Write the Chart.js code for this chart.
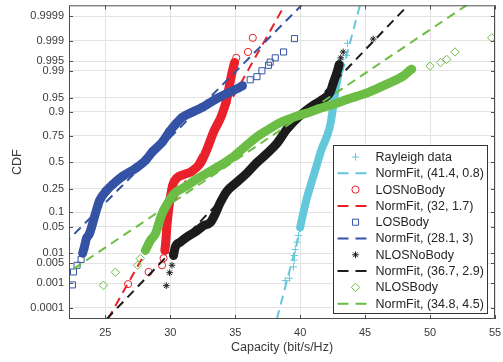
<!DOCTYPE html>
<html>
<head>
<meta charset="utf-8">
<script src="https://cdn.jsdelivr.net/npm/chart.js@4.4.0/dist/chart.umd.min.js"></script>
<style>
  html, body { margin: 0; padding: 0; background: #fff; }
</style>
</head>
<body>
<canvas id="cdf" width="503" height="362"></canvas>
<script>
// names, fit parameters (mu, sigma) and axis ticks
const seriesNames = ["Rayleigh data", "LOSNoBody", "LOSBody", "NLOSNoBody", "NLOSBody"];
const fitMu = [41.4, 32, 28.1, 36.7, 34.8];
const fitSigma = [0.8, 1.7, 3, 2.9, 4.5];
const cdfTicks = [0.0001, 0.001, 0.005, 0.01, 0.05, 0.1, 0.25, 0.5, 0.75, 0.9, 0.95, 0.99, 0.995, 0.999, 0.9999];
const capTicks = [25, 30, 35, 40, 45, 50, 55];

// capacity (bit/s/Hz) and CDF as standard normal quantile (probability plot units)
const rayleighX = [38.85, 39.18, 39.48, 39.54, 39.56, 39.62, 39.75, 39.87, 40.0, 40.25, 40.52, 40.90, 41.28, 41.67, 42.05, 42.31, 42.56, 42.69, 42.82, 43.08, 43.15, 43.55, 43.64];
const rayleighQ = [-3.02, -2.96, -2.67, -2.50, -2.38, -2.23, -2.04, -1.87, -1.66, -1.28, -0.91, -0.49, -0.07, 0.35, 0.65, 0.94, 1.45, 1.78, 2.03, 2.49, 2.62, 2.72, 3.03];

const losNoBodyX = [26.75, 28.33, 29.36, 29.48, 29.58, 29.66, 29.72, 29.82, 29.92, 30.05, 30.18, 30.52, 31.02, 31.67, 32.31, 32.85, 33.33, 33.95, 34.35, 34.55, 34.75, 34.95, 35.08, 35.98, 36.35];
const losNoBodyQ = [-3.11, -2.80, -2.63, -2.45, -2.25, -2.00, -1.70, -1.37, -1.07, -0.81, -0.59, -0.40, -0.32, -0.23, -0.03, 0.35, 0.77, 1.19, 1.61, 1.95, 2.28, 2.54, 2.66, 2.81, 3.17];

const losBodyX = [22.46, 22.55, 22.82, 23.13, 23.25, 23.38, 23.54, 23.77, 24.15, 24.54, 25.05, 25.56, 26.33, 27.36, 28.13, 28.64, 29.41, 29.92, 30.44, 30.95, 31.72, 32.48, 33.52, 34.54, 35.56, 36.15, 36.67, 37.05, 37.56, 37.69, 38.08, 38.72, 39.56];
const losBodyQ = [-3.13, -2.80, -2.63, -2.48, -2.32, -2.17, -1.95, -1.83, -1.41, -0.99, -0.74, -0.57, -0.36, -0.15, 0.06, 0.27, 0.52, 0.77, 0.98, 1.15, 1.28, 1.40, 1.61, 1.78, 1.95, 2.10, 2.18, 2.33, 2.47, 2.55, 2.66, 2.81, 3.15];

const nlosNoBodyX = [29.69, 29.95, 30.13, 30.25, 30.38, 30.77, 31.28, 32.05, 32.56, 33.08, 33.46, 33.85, 34.36, 35.13, 35.90, 36.67, 37.44, 38.21, 38.98, 40.0, 41.02, 41.79, 42.31, 42.56, 42.82, 43.0, 43.12, 43.31, 45.62];
const nlosNoBodyQ = [-3.15, -2.82, -2.63, -2.38, -2.17, -2.04, -1.91, -1.75, -1.62, -1.54, -1.32, -1.03, -0.74, -0.51, -0.28, -0.01, 0.22, 0.48, 0.84, 1.19, 1.45, 1.61, 1.78, 2.03, 2.28, 2.49, 2.66, 2.81, 3.14];

const nlosBodyX = [24.85, 25.77, 27.48, 27.69, 28.08, 28.46, 28.85, 29.10, 29.36, 29.75, 30.25, 31.25, 32.0, 33.0, 34.0, 34.9, 35.6, 36.2, 36.95, 37.69, 38.4, 39.23, 40.0, 40.77, 41.5, 42.31, 43.7, 45.25, 46.67, 47.95, 48.59, 50.0, 50.81, 51.28, 51.92, 54.75];
const nlosBodyQ = [-3.14, -2.81, -2.63, -2.46, -2.25, -2.00, -1.83, -1.58, -1.32, -1.07, -0.82, -0.61, -0.44, -0.25, -0.05, 0.15, 0.35, 0.52, 0.71, 0.86, 1.00, 1.11, 1.20, 1.28, 1.37, 1.45, 1.61, 1.78, 1.99, 2.20, 2.37, 2.45, 2.54, 2.62, 2.81, 3.17];

const seriesX = [rayleighX, losNoBodyX, losBodyX, nlosNoBodyX, nlosBodyX];
const seriesQ = [rayleighQ, losNoBodyQ, losBodyQ, nlosNoBodyQ, nlosBodyQ];

const colors = ["#64c8da", "#e8212b", "#3553a5", "#1c1c1c", "#6cbd46"];
const markers = [
  { style: "cross", r: 3.6 },
  { style: "circle", r: 3.6 },
  { style: "rect", r: 4.3 },
  { style: "star", r: 3.3 },
  { style: "rectRot", r: 4.2 },
];
// index range of the densely packed samples (drawn as a solid band)
const bandRange = [[8, 19], [4, 21], [4, 24], [3, 25], [4, 30]];
const bandWidth = [8, 9, 9, 9, 9];

const FONT = "'Liberation Sans', Arial, Helvetica, sans-serif";
const TEXT = "#3a3a3a";

//inverse normal CDF (Acklam), used for the probability scale
function probit(p) {
  const a = [-39.69683028665376, 220.9460984245205, -275.9285104469687, 138.357751867269, -30.66479806614716, 2.506628277459239];
  const b = [-54.47609879822406, 161.5858368580409, -155.6989798598866, 66.80131188771972, -13.28068155288572];
  const c = [-0.007784894002430293, -0.3223964580411365, -2.400758277161838, -2.549732539343734, 4.374664141464968, 2.938163982698783];
  const d = [0.007784695709041462, 0.3224671290700398, 2.445134137142996, 3.754408661907416];
  const pl = 0.02425;
  let q, r;
  if (p < pl) {
    q = Math.sqrt(-2 * Math.log(p));
    return (((((c[0] * q + c[1]) * q + c[2]) * q + c[3]) * q + c[4]) * q + c[5]) / ((((d[0] * q + d[1]) * q + d[2]) * q + d[3]) * q + 1);
  }
  if (p > 1 - pl) {
    q = Math.sqrt(-2 * Math.log(1 - p));
    return -(((((c[0] * q + c[1]) * q + c[2]) * q + c[3]) * q + c[4]) * q + c[5]) / ((((d[0] * q + d[1]) * q + d[2]) * q + d[3]) * q + 1);
  }
  q = p - 0.5;
  r = q * q;
  return (((((a[0] * r + a[1]) * r + a[2]) * r + a[3]) * r + a[4]) * r + a[5]) * q / (((((b[0] * r + b[1]) * r + b[2]) * r + b[3]) * r + b[4]) * r + 1);
}

//datasets in drawing order: data, fit, data, fit...
const datasets = [];
seriesNames.forEach((name, k) => {
  const col = colors[k];
  const band = bandRange[k];
  datasets.push({
    label: name,
    data: seriesX[k].map((x, i) => ({ x: x, y: seriesQ[k][i] })),
    showLine: true,
    borderColor: col,
    borderWidth: bandWidth[k],
    borderCapStyle: "round",
    borderJoinStyle: "round",
    cubicInterpolationMode: "monotone",
    segment: {
      borderColor: (ctx) => (ctx.p0DataIndex >= band[0] && ctx.p1DataIndex <= band[1] ? col : "rgba(0,0,0,0)"),
    },
    pointStyle: markers[k].style,
    pointRadius: markers[k].r,
    pointBorderWidth: 1,
    pointBorderColor: col,
    pointBackgroundColor: "rgba(0,0,0,0)",
    order: 10 - 2 * k,
  });
  datasets.push({
    label: "NormFit, (" + fitMu[k] + ", " + fitSigma[k] + ")",
    data: [
      { x: fitMu[k] - 4 * fitSigma[k], y: -4 },
      { x: fitMu[k] + 4 * fitSigma[k], y: 4 },
    ],
    showLine: true,
    borderColor: col,
    borderWidth: 2,
    borderDash: [9, 6],
    pointRadius: 0,
    clip: 0,
    order: 9 - 2 * k,
  });
});

//box, inward tick marks and legend
const framePlugin = {
  id: "frame",
  afterDatasetsDraw(chart) {
    const { ctx, chartArea: a, scales } = chart;
    ctx.save();
    ctx.strokeStyle = "#4d4d4d";
    ctx.lineWidth = 1;
    ctx.beginPath();
    capTicks.forEach((v) => {
      const px = Math.round(scales.x.getPixelForValue(v)) + 0.5;
      ctx.moveTo(px, a.bottom);
      ctx.lineTo(px, a.bottom - 4);
      ctx.moveTo(px, a.top);
      ctx.lineTo(px, a.top + 4);
    });
    cdfTicks.forEach((p) => {
      const py = Math.round(scales.y.getPixelForValue(probit(p))) + 0.5;
      ctx.moveTo(a.left, py);
      ctx.lineTo(a.left + 4, py);
      ctx.moveTo(a.right, py);
      ctx.lineTo(a.right - 4, py);
    });
    ctx.stroke();
    ctx.strokeRect(a.left + 0.5, a.top + 0.5, a.right - a.left - 1, a.bottom - a.top - 1);

    //legend
    const lw = 154, lh = 168;
    const lx = Math.round(a.right - 8 - lw) + 0.5;
    const ly = Math.round(a.bottom - 6 - lh) + 0.5;
    ctx.fillStyle = "#ffffff";
    ctx.fillRect(lx, ly, lw, lh);
    ctx.strokeStyle = "#333333";
    ctx.strokeRect(lx, ly, lw, lh);
    ctx.font = "12.5px " + FONT;
    ctx.textBaseline = "middle";
    chart.data.datasets.forEach((ds, i) => {
      const k = Math.floor(i / 2);
      const cy = ly + 11.5 + i * 16.3;
      ctx.strokeStyle = colors[k];
      if (i % 2 === 0) {
        ctx.setLineDash([]);
        ctx.fillStyle = "rgba(0,0,0,0)";
        Chart.helpers.drawPoint(ctx, { pointStyle: markers[k].style, radius: markers[k].r, borderWidth: 1, rotation: 0 }, lx + 22, cy);
      } else {
        ctx.setLineDash([11, 7]);
        ctx.lineWidth = 2;
        ctx.beginPath();
        ctx.moveTo(lx + 4, cy);
        ctx.lineTo(lx + 33, cy);
        ctx.stroke();
        ctx.setLineDash([]);
        ctx.lineWidth = 1;
      }
      ctx.fillStyle = "#262626";
      ctx.fillText(ds.label, lx + 42, cy + 0.5);
    });
    ctx.restore();
  },
};

new Chart(document.getElementById("cdf"), {
  type: "scatter",
  data: { datasets: datasets },
  plugins: [framePlugin],
  options: {
    responsive: false,
    animation: false,
    events: [],
    layout: { padding: { top: 2, right: 8, left: 0, bottom: 0 } },
    plugins: {
      legend: { display: false },
      tooltip: { enabled: false },
    },
    scales: {
      x: {
        type: "linear",
        min: 22.2,
        max: 55,
        afterBuildTicks: (s) => {
          s.ticks = capTicks.map((v) => ({ value: v }));
        },
        afterFit: (s) => {
          s.height = 43;
          s.paddingLeft = 0;
          s.paddingRight = 0;
        },
        grid: { color: "#e3e3e3", drawTicks: false },
        border: { display: false },
        ticks: { autoSkip: false, maxRotation: 0, padding: 7, color: TEXT, font: { family: FONT, size: 11 } },
        title: { display: true, text: "Capacity (bit/s/Hz)", color: TEXT, font: { family: FONT, size: 12.5 }, padding: { top: 0, bottom: 6.5 } },
      },
      y: {
        type: "linear",
        min: -4,
        max: 4,
        afterBuildTicks: (s) => {
          s.ticks = cdfTicks.map((p) => ({ value: probit(p) }));
        },
        afterFit: (s) => {
          s.width = 69;
          s.paddingTop = 0;
          s.paddingBottom = 0;
        },
        grid: { color: "#e3e3e3", drawTicks: false },
        border: { display: false },
        ticks: {
          autoSkip: false,
          padding: 5,
          color: TEXT,
          font: { family: FONT, size: 11 },
          callback: (v, i) => String(cdfTicks[i]),
        },
        title: { display: true, text: "CDF", color: TEXT, font: { family: FONT, size: 12.5 }, padding: { top: 10.5, bottom: 0 } },
      },
    },
  },
});
</script>
</body>
</html>
